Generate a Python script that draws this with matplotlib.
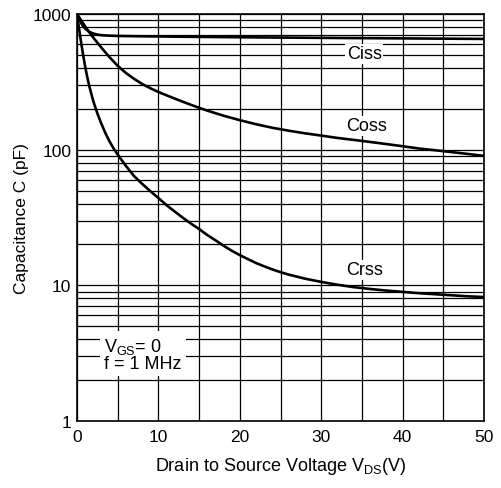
import matplotlib
matplotlib.use("Agg")
import matplotlib.pyplot as plt
from matplotlib.ticker import FixedLocator, NullFormatter

plt.rcParams['font.family'] = ['Liberation Sans', 'DejaVu Sans']
plt.rcParams['mathtext.fontset'] = 'custom'
plt.rcParams['mathtext.rm'] = 'Liberation Sans'
plt.rcParams['mathtext.it'] = 'Liberation Sans'

ciss_v = [0, 0.3, 0.6, 1, 1.5, 2, 2.5, 3, 4, 5, 7, 10, 15, 20, 30, 40, 50]
ciss_c = [1000, 910, 840, 780, 740, 718, 705, 698, 692, 689, 686, 683, 678, 674, 667, 661, 655]

coss_v = [0, 0.5, 1, 1.5, 2, 2.5, 3, 4, 5, 6, 7, 8, 9, 10, 12, 14, 16, 18, 20, 22, 24,
          26, 28, 30, 32, 34, 36, 38, 40, 42, 44, 46, 48, 50]
coss_c = [1000, 900, 810, 735, 670, 615, 565, 480, 415, 368, 333, 305, 284, 266, 238, 214,
          194, 178, 165, 154, 145, 138, 132, 127, 122, 118, 114, 110, 106, 102, 99, 96, 93, 90]

crss_v = [0, 0.25, 0.5, 0.75, 1, 1.25, 1.5, 2, 2.5, 3, 3.5, 4, 4.5, 5, 6, 7, 8, 9, 10, 11,
          12, 13, 14, 15, 16, 17, 18, 19, 20, 21, 22, 23, 24, 25, 26, 27, 28, 29, 30, 32,
          34, 36, 38, 40, 42, 44, 46, 48, 50]
crss_c = [1000, 780, 620, 500, 410, 345, 295, 228, 185, 155, 132, 115, 102, 92, 76, 64, 56,
          49.5, 44, 39, 35, 31.5, 28.5, 26, 23.5, 21.5, 19.6, 18, 16.7, 15.6, 14.6, 13.8,
          13.1, 12.5, 12.0, 11.6, 11.2, 10.9, 10.6, 10.1, 9.7, 9.4, 9.15, 8.95, 8.75, 8.6,
          8.45, 8.3, 8.2]

x_ticks = [0, 10, 20, 30, 40, 50]
y_ticks = [1, 10, 100, 1000]

fig = plt.figure(figsize=(5.01, 4.89), dpi=100)
ax = fig.add_axes([77/501, 1-422/489, (484-77)/501, (422-15)/489])

ax.set_yscale('log')
ax.set_xlim(0, 50)
ax.set_ylim(1, 1000)

for v, c in [(ciss_v, ciss_c), (coss_v, coss_c), (crss_v, crss_c)]:
    ax.plot(v, c, color='black', lw=1.9, zorder=3, solid_joinstyle='round')

ax.xaxis.set_major_locator(FixedLocator(x_ticks))
ax.xaxis.set_minor_locator(FixedLocator([5, 15, 25, 35, 45]))
ax.yaxis.set_major_locator(FixedLocator(y_ticks))
minors = [m * 10**e for e in range(0, 3) for m in range(2, 10)]
ax.yaxis.set_minor_locator(FixedLocator(minors))
ax.yaxis.set_minor_formatter(NullFormatter())
ax.set_xticklabels([str(t) for t in x_ticks])
ax.set_yticklabels([str(t) for t in y_ticks])
ax.grid(True, which='both', color='black', lw=0.9)
ax.tick_params(which='both', length=0, labelsize=12.5)
ax.tick_params(axis='x', pad=6)
ax.tick_params(axis='y', pad=4)
for s in ax.spines.values():
    s.set_color('black')
    s.set_linewidth(1.2)

box = dict(facecolor='white', edgecolor='none', pad=1)
ax.text(35.3, 508, 'Ciss', fontsize=13, ha='center', va='center', bbox=box, zorder=4)
ax.text(35.6, 150, 'Coss', fontsize=13, ha='center', va='center', bbox=box, zorder=4)
ax.text(35.3, 13.0, 'Crss', fontsize=13, ha='center', va='center', bbox=box, zorder=4)
ax.text(3.3, 3.1, 'V$_{\\mathregular{GS}}$= 0\nf = 1 MHz', fontsize=13, ha='left', va='center',
        linespacing=0.9, bbox=dict(facecolor='white', edgecolor='none', pad=3), zorder=4)

ax.set_xlabel('Drain to Source Voltage V$_{\\mathregular{DS}}$(V)', fontsize=13, labelpad=8)
ax.set_ylabel('Capacitance C (pF)', fontsize=12.5, labelpad=3)

fig.savefig('out.png', dpi=100)
